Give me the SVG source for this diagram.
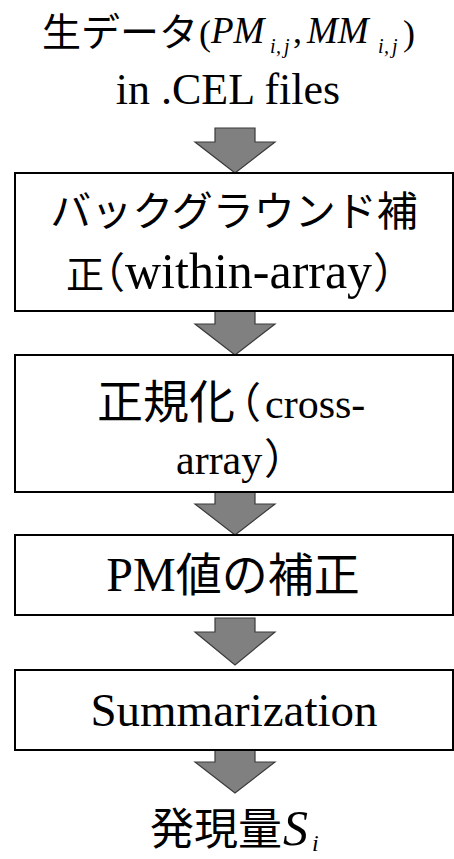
<svg xmlns="http://www.w3.org/2000/svg" width="454" height="859" viewBox="0 0 454 859">
<style>
.box{fill:#fff;stroke:#000;stroke-width:2}
.arr{fill:#808080;stroke:#3a3a3a;stroke-width:1.2;stroke-linejoin:miter}
.cjk{font-family:"Noto Sans CJK JP","Noto Sans CJK SC",sans-serif;font-weight:400}
.hw{font-feature-settings:"halt" 1}
.ser{font-family:"Liberation Serif","Times New Roman",serif}
.it{font-style:italic}
text{fill:#000}
</style>
<g id="connectors">
<path class="arr" d="M215,128H255V142H275L235,173L195,142H215Z"/>
<path class="arr" d="M215,311H255V324H275L235,355L195,324H215Z"/>
<path class="arr" d="M215,492H255V504H275L235,535L195,504H215Z"/>
<path class="arr" d="M215,618H255V632H275L235,665L195,632H215Z"/>
<path class="arr" d="M215,750H255V762H275L235,793L195,762H215Z"/>
</g>
<g id="raw-data">
<text y="46"><tspan class="cjk" x="42" font-size="39">生データ</tspan><tspan class="ser" x="199" y="45" font-size="36">(</tspan><tspan class="ser it" x="211" y="43" font-size="37">PM</tspan><tspan class="ser it" x="270" y="53" font-size="20">i</tspan><tspan class="ser it" x="276" y="53" font-size="20">,</tspan><tspan class="ser it" x="284" y="53" font-size="20">j</tspan><tspan class="ser" x="293" y="43" font-size="36">,</tspan><tspan class="ser it" x="307" y="43" font-size="37">MM</tspan><tspan class="ser it" x="378" y="53" font-size="20">i</tspan><tspan class="ser it" x="384" y="53" font-size="20">,</tspan><tspan class="ser it" x="392" y="53" font-size="20">j</tspan><tspan class="ser" x="403" y="45" font-size="36">)</tspan></text>
<text class="ser" x="228" y="104" font-size="44" text-anchor="middle">in .CEL files</text>
</g>
<g id="background">
<rect class="box" x="15" y="173" width="438" height="138"/>
<text class="cjk" x="234" y="226" font-size="41" text-anchor="middle">バックグラウンド補</text>
<text y="288"><tspan class="cjk" x="66" font-size="38">正</tspan><tspan class="cjk hw" x="104" font-size="42">（</tspan><tspan class="ser" x="125" font-size="50">within-array</tspan><tspan class="cjk hw" x="373" font-size="42">）</tspan></text>
</g>
<g id="normalization">
<rect class="box" x="15" y="355" width="438" height="137"/>
<text y="418"><tspan class="cjk" x="97" font-size="46">正規化</tspan><tspan class="cjk hw" x="240" font-size="42">（</tspan><tspan class="ser" x="265" font-size="42">cross-</tspan></text>
<text y="474"><tspan class="ser" x="176" font-size="42">array</tspan><tspan class="cjk hw" x="264" font-size="42">）</tspan></text>
</g>
<g id="pm-correction">
<rect class="box" x="15" y="535" width="438" height="80"/>
<text x="233" y="591" text-anchor="middle"><tspan class="ser" font-size="48">PM</tspan><tspan class="cjk" font-size="46">値の補正</tspan></text>
</g>
<g id="summarization">
<rect class="box" x="15" y="670" width="438" height="80"/>
<text class="ser" x="234" y="726" font-size="47" text-anchor="middle">Summarization</text>
</g>
<g id="expression">
<text y="845"><tspan class="cjk" x="150" font-size="44">発現量</tspan><tspan class="ser it" x="283" font-size="50">S</tspan><tspan class="ser it" x="312" y="851" font-size="24">i</tspan></text>
</g>
</svg>
